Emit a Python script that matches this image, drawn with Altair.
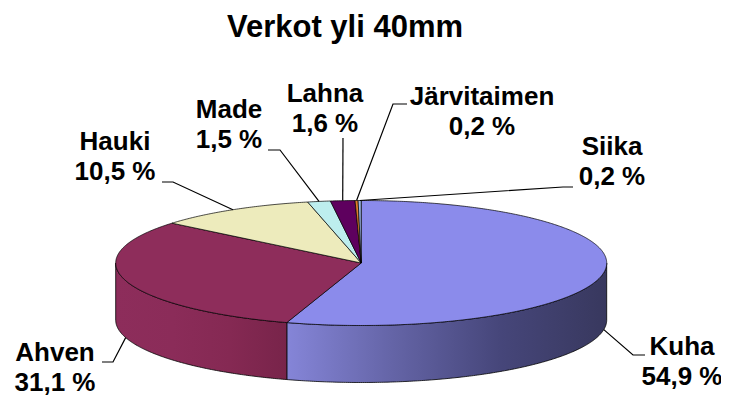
import math
import altair as alt
import pandas as pd

# ---------------- data ----------------
title_text = "Verkot yli 40mm"
names = ["Kuha", "Ahven", "Hauki", "Made", "Lahna", "Järvitaimen", "Siika"]
shares = [54.9, 31.1, 10.5, 1.5, 1.6, 0.2, 0.2]
colors = ["#8B8BEB", "#8E2D5B", "#EDEBBC", "#BDEEEE", "#5E005E", "#E07A2A", "#9DB8E6"]
side_gradients = {
    "Kuha": ["#8585D8", "#6464A6", "#46467A", "#38385E"],
    "Ahven": ["#8D2D5B", "#8B2C59", "#852953", "#78244A"],
}

# ---------------- layout (page pixels) ----------------
CX, CY, RX, RY, DEPTH = 361.2, 263.0, 245.5, 62.5, 57.0
PAD_TOP, PAD_BOTTOM = 6, 8
W, H = 713, 405 - 16 - PAD_TOP - PAD_BOTTOM
X0, Y0 = 8, 8 + PAD_TOP
label_pos = {
    "Kuha": (682, 355, [(645, 355), (633, 355)]),
    "Ahven": (55, 361, [(102, 362), (113, 362)]),
    "Hauki": (115, 150, [(162, 182), (173, 182)]),
    "Made": (229, 118, [(268, 150), (280, 150)]),
    "Lahna": (325, 102, [(343, 138)]),
    "Järvitaimen": (482, 105, [(407, 104), (393, 104)]),
    "Siika": (612, 155, [(573, 187), (563, 187)]),
}
LINE_GAP = 30
FONT = "Liberation Sans"


def pt(theta, drop=0.0):
    r = math.radians(theta)
    return CX + RX * math.sin(r), CY - RY * math.cos(r) + drop


def arc(a, b, drop=0.0, step=0.5):
    n = max(2, int(math.ceil(abs(b - a) / step)) + 1)
    return [pt(a + (b - a) * k / (n - 1), drop) for k in range(n)]


# slice angles (clockwise from 12 o'clock)
total = sum(shares)
starts, ends = [], []
acc = 0.0
for v in shares:
    starts.append(acc / total * 360)
    acc += v
    ends.append(acc / total * 360)

rows = []
# side faces
for nm, s, e in zip(names, starts, ends):
    a, b = max(s, 90.0), min(e, 270.0)
    if b > a:
        poly = arc(a, b) + arc(b, a, DEPTH)
        poly.append(poly[0])
        for i, (x, y) in enumerate(poly):
            rows.append({"face": "side_" + nm, "i": i, "x": x, "y": y})
# top faces
for nm, s, e in zip(names, starts, ends):
    poly = [(CX, CY)] + arc(s, e) + [(CX, CY)]
    for i, (x, y) in enumerate(poly):
        rows.append({"face": "top_" + nm, "i": i, "x": x, "y": y})
geo = pd.DataFrame(rows)

# leader lines
lrows = []
for nm, s, e in zip(names, starts, ends):
    mid = (s + e) / 2
    drop = DEPTH if 90 <= mid <= 270 else 0.0
    pts = list(label_pos[nm][2]) + [pt(mid, drop)]
    for i, (x, y) in enumerate(pts):
        lrows.append({"name": nm, "i": i, "x": x, "y": y})
leaders = pd.DataFrame(lrows)

# label texts
trows = []
for nm, v in zip(names, shares):
    lx, ly, _ = label_pos[nm]
    pct = f"{v:.1f} %".replace(".", ",")
    trows.append({"text": nm, "x": lx, "y": ly})
    trows.append({"text": pct, "x": lx, "y": ly + LINE_GAP})
texts = pd.DataFrame(trows)
title_df = pd.DataFrame([{"text": title_text, "x": 345, "y": 37}])

xs = alt.Scale(domain=[X0, X0 + W], nice=False, zero=False)
ys = alt.Scale(domain=[Y0, Y0 + H], nice=False, zero=False, reverse=True)
X = alt.X("x:Q", scale=xs, axis=None)
Y = alt.Y("y:Q", scale=ys, axis=None)

layers = []
for nm in names:
    if nm in side_gradients:
        cols = side_gradients[nm]
        stops = [{"offset": k / (len(cols) - 1), "color": c} for k, c in enumerate(cols)]
        grad = {"gradient": "linear", "x1": 0, "y1": 0, "x2": 1, "y2": 0, "stops": stops}
        layers.append(
            alt.Chart(geo)
            .transform_filter(alt.datum.face == "side_" + nm)
            .mark_line(fill=grad, stroke="black", strokeWidth=0.8, strokeJoin="round")
            .encode(x=X, y=Y, order="i:Q")
        )
for nm, c in zip(names, colors):
    layers.append(
        alt.Chart(geo)
        .transform_filter(alt.datum.face == "top_" + nm)
        .mark_line(fill=c, stroke="black", strokeWidth=0.7, strokeJoin="round")
        .encode(x=X, y=Y, order="i:Q")
    )

leader_layer = (
    alt.Chart(leaders)
    .mark_line(color="black", strokeWidth=1.2)
    .encode(x=X, y=Y, detail="name:N", order="i:Q")
)
text_layer = (
    alt.Chart(texts)
    .mark_text(font=FONT, fontSize=26, fontWeight="bold", align="center", baseline="alphabetic", color="black")
    .encode(x=X, y=Y, text="text:N")
)
title_layer = (
    alt.Chart(title_df)
    .mark_text(font=FONT, fontSize=31, fontWeight="bold", align="center", baseline="alphabetic", color="black")
    .encode(x=X, y=Y, text="text:N")
)

chart = (
    alt.layer(*layers, leader_layer, text_layer, title_layer)
    .properties(
        width=W,
        height=H,
        autosize="none",
        padding={"left": 0, "top": PAD_TOP, "right": 0, "bottom": PAD_BOTTOM},
        background="white",
    )
    .configure_view(stroke=None)
)

chart.save("out.html", embed_options={"renderer": "svg", "actions": False})
